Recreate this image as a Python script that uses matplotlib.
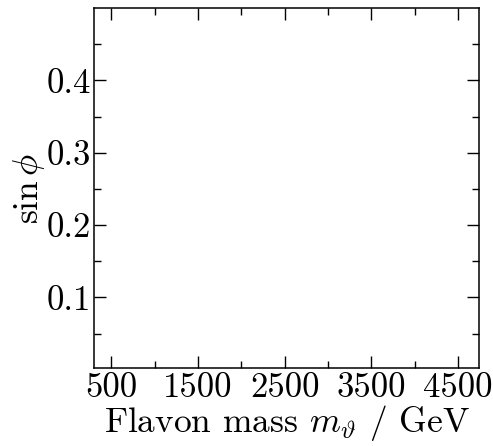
import matplotlib
matplotlib.use("Agg")
import matplotlib.pyplot as plt
from matplotlib.ticker import FixedLocator

# ── Axis data ──
x_limits = [300, 4750]
y_limits = [0.002, 0.5]
x_major = [500, 1500, 2500, 3500, 4500]
x_minor = [1000, 2000, 3000, 4000]
y_major = [0.1, 0.2, 0.3, 0.4]
y_minor = [0.05, 0.15, 0.25, 0.35, 0.45]

plt.rcParams["font.family"] = "serif"
plt.rcParams["font.serif"] = ["cmr10", "DejaVu Serif"]
plt.rcParams["mathtext.fontset"] = "cm"
plt.rcParams["axes.formatter.use_mathtext"] = True
plt.rcParams["axes.unicode_minus"] = False

fig = plt.figure(figsize=(4.93, 4.46), dpi=100)
ax = fig.add_axes([0.1907, 0.1742, 0.7819, 0.8078])

ax.set_xlim(*x_limits)
ax.set_ylim(*y_limits)
ax.xaxis.set_major_locator(FixedLocator(x_major))
ax.xaxis.set_minor_locator(FixedLocator(x_minor))
ax.yaxis.set_major_locator(FixedLocator(y_major))
ax.yaxis.set_minor_locator(FixedLocator(y_minor))
ax.set_xticklabels([str(v) for v in x_major])
ax.set_yticklabels([f"{v:.1f}" for v in y_major])

ax.tick_params(which="both", direction="in", top=True, right=True,
               labelsize=25, width=1.0)
ax.tick_params(axis="x", pad=3)
ax.tick_params(axis="y", pad=2)
ax.tick_params(which="major", length=8.5)
ax.tick_params(which="minor", length=5)
for sp in ax.spines.values():
    sp.set_linewidth(1.1)

ax.set_xlabel(r"Flavon mass $m_\vartheta$ / GeV", fontsize=25.5, labelpad=-1)
ax.set_ylabel(r"$\sin\phi$", fontsize=25.5, labelpad=0)

fig.savefig("out.png", dpi=100, facecolor="white")
